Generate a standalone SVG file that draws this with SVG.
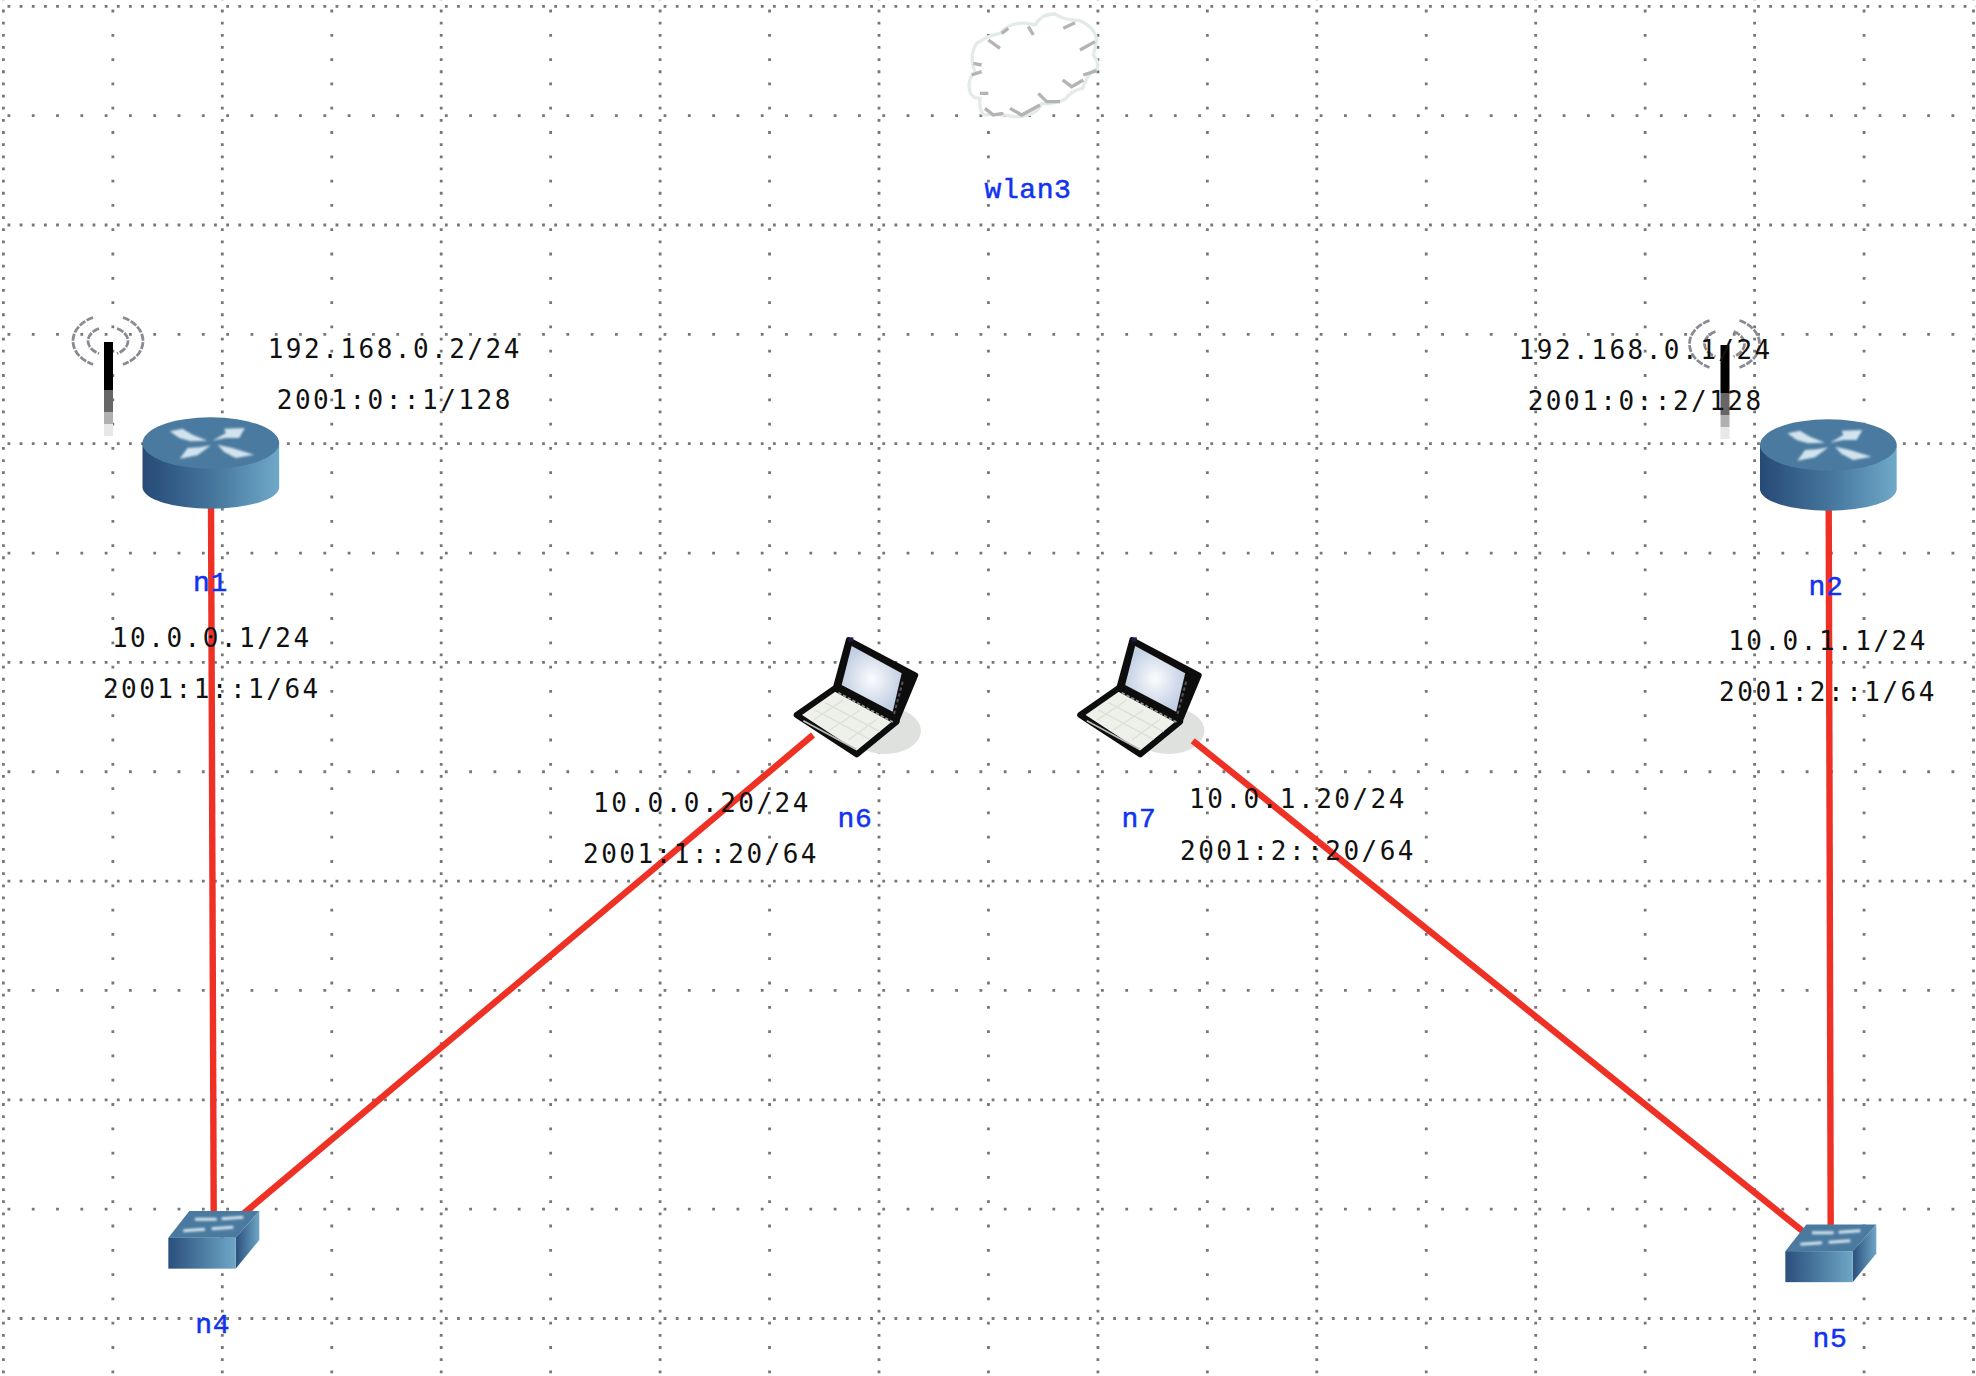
<svg xmlns="http://www.w3.org/2000/svg" width="1976" height="1376" viewBox="0 0 1976 1376">
<style>
.g{stroke:#777;stroke-width:2.8;fill:none}
.f{stroke-dasharray:2.8 9.35}
.c{stroke-dasharray:2.8 21.5}
.l{stroke:#ee3124;stroke-width:6.4;fill:none}
.b{font-family:"DejaVu Sans Mono",monospace;font-size:26px;letter-spacing:2.5px;fill:#111;text-anchor:middle}
.n{font-family:"Liberation Mono",monospace;font-size:28px;letter-spacing:.6px;fill:#1133ee;text-anchor:middle;stroke:#1133ee;stroke-width:.5}
.k{stroke:#8a8a92;stroke-width:2.8;fill:none;stroke-dasharray:7 1.5}
.cb{stroke:#b4b4b4;stroke-width:10;fill:none}
</style>
<defs>
<filter id="s" x="-30%" y="-80%" width="160%" height="260%"><feGaussianBlur stdDeviation="3.5"/></filter>
<filter id="t" x="-5%" y="-5%" width="110%" height="110%"><feGaussianBlur stdDeviation="1.8"/></filter>
<linearGradient id="side"><stop offset="0" stop-color="#264a76"/><stop offset=".5" stop-color="#44749b"/><stop offset="1" stop-color="#6fa9c9"/></linearGradient>
<linearGradient id="sw2" x1="0" y1="0" x2="1" y2="0"><stop offset="0" stop-color="#2a4f7c"/><stop offset="1" stop-color="#6ea7c6"/></linearGradient>
<radialGradient id="scr"><stop offset="0" stop-color="#fbfcfe"/><stop offset="1" stop-color="#c3cfe3"/></radialGradient>
<g id="router">
<path d="M180 435V568A205 64 0 0 0 590 568V435Z" fill="url(#side)"/>
<ellipse cx="385" cy="435" rx="205" ry="77" fill="#4a7a9f"/>
<g fill="#d2e3ee" filter="url(#s)">
<path d="M262 400 300 392 330 410 375 428 325 430 290 420Z"/>
<path d="M390 428 430 405 425 392 487 390 470 420 430 420Z"/>
<path d="M385 442 345 472 292 482 315 450 350 448Z"/>
<path d="M405 440 450 450 515 470 460 480 425 462Z"/>
</g>
</g>
<g id="switch">
<path d="M148 93H358L287 173H85Z" fill="#4a7a9f"/>
<path d="M287 173 358 93V180L287 266Z" fill="url(#sw2)"/>
<rect x="85" y="173" width="202" height="93" fill="url(#sw2)"/>
<path d="M165 118H230M245 116 310 112M130 152 195 148M215 146 280 142" stroke="#d2e3ee" stroke-width="9" fill="none" filter="url(#s)"/>
</g>
<g id="laptop">
<ellipse cx="345" cy="332" rx="108" ry="70" fill="#dfe1df"/>
<g filter="url(#t)">
<path d="M235 58 438 165 380 305 195 205Z" fill="#111" stroke="#111" stroke-width="14" stroke-linejoin="round"/>
<path d="M245 78 395 160 368 275 215 195Z" fill="url(#scr)"/>
<path d="M398 185 370 290" stroke="#555" stroke-width="6" stroke-dasharray="10 8" fill="none"/>
<path d="M195 205 380 305 260 403 80 285Z" fill="#eef0ea" stroke="#111" stroke-width="18" stroke-linejoin="round"/>
<path d="M205 218 372 308" stroke="#999" stroke-width="5" stroke-dasharray="10 6" fill="none"/>
<path d="M100 302 258 388" stroke="#bbb" stroke-width="5" fill="none"/>
<path d="M135 270 300 358M165 248 330 335M220 240 130 300M270 270 180 330M320 298 235 360" stroke="#dcdfd8" stroke-width="4" fill="none"/>
<path d="M235 58 250 58" stroke="#1a1a50" stroke-width="12"/>
</g>
</g>
</defs>
<rect width="1976" height="1376" fill="#fff"/>
<g id="grid">
<path class="g f" d="M3.4-2.55V1376M222.3-2.55V1376M441.2-2.55V1376M660.1-2.55V1376M879-2.55V1376M1097.9-2.55V1376M1316.8-2.55V1376M1535.7-2.55V1376M1754.6-2.55V1376M1973.5-2.55V1376"/>
<path class="g c" d="M112.85-14.7V1376M331.75-14.7V1376M550.65-14.7V1376M769.55-14.7V1376M988.45-14.7V1376M1207.35-14.7V1376M1426.25-14.7V1376M1645.15-14.7V1376M1864.05-14.7V1376"/>
<path class="g f" d="M-4.65 6.3H1976M-4.65 225H1976M-4.65 443.7H1976M-4.65 662.4H1976M-4.65 881.1H1976M-4.65 1099.8H1976M-4.65 1318.5H1976"/>
<path class="g c" d="M-16.8 115.65H1976M-16.8 334.35H1976M-16.8 553.05H1976M-16.8 771.75H1976M-16.8 990.45H1976M-16.8 1209.15H1976"/>
</g>
<g id="wlan3">
<g transform="translate(900 0) scale(.33333)">
<path d="M210 275Q200 240 225 215Q205 170 230 130Q265 105 300 100Q330 65 380 70L405 75Q425 40 465 42Q490 60 540 62Q590 85 590 125L580 165Q600 190 590 208Q565 215 548 265Q515 270 495 298Q450 315 425 310Q410 350 340 350Q300 340 250 345Q235 320 240 295Q215 295 210 275Z" fill="#fff" stroke="#e2eaea" stroke-width="10"/>
<path class="cb" d="M490 85 525 68M540 150 585 125M385 80 400 105M220 190 245 195M215 225 245 215M488 240 515 260 550 240M550 225 590 212M415 280 440 305 480 305M330 325 365 345 420 315M255 325 280 345 310 340M240 280 265 280M265 120 300 145M305 100 325 85"/>
</g>
<text class="n" x="1028" y="198">wlan3</text>
</g>
<g id="n6">
<use href="#laptop" transform="translate(770 620) scale(.33333)"/>
<text class="n" x="855" y="827">n6</text>
</g>
<g id="n7">
<use href="#laptop" transform="translate(1053.5 620) scale(.33333)"/>
<text class="n" x="1139" y="827">n7</text>
</g>
<g id="connectors">
<path class="l" d="M211 500 213.7 1215"/>
<path class="l" d="M1828.7 500 1830.7 1230"/>
<path class="l" d="M813 735 243 1214"/>
<path class="l" d="M1192.7 740.7 1805 1233"/>
</g>
<g id="n1">
<g id="n1-antenna">
<path class="k" d="M93 317.5A35 26 0 0 0 93 364.5M123 317.5A35 26 0 0 1 123 364.5M99 328.5A20 14 0 0 0 99 353.5M117 328.5A20 14 0 0 1 117 353.5"/>
<path d="M104 342H113V390H104Z" fill="#000"/><rect x="104" y="390" width="9" height="22" fill="#666"/><rect x="104" y="412" width="9" height="12" fill="#b0b0b0"/><rect x="104" y="424" width="9" height="12" fill="#e8e8e8"/>
</g>
<use href="#router" transform="translate(82.5 298) scale(.33333)"/>
<text class="n" x="210.5" y="591">n1</text>
</g>
<g id="n2">
<g transform="translate(1616.5 3)">
<path class="k" d="M93 317.5A35 26 0 0 0 93 364.5M123 317.5A35 26 0 0 1 123 364.5M99 328.5A20 14 0 0 0 99 353.5M117 328.5A20 14 0 0 1 117 353.5"/>
<path d="M104 342H113V390H104Z" fill="#000"/><rect x="104" y="390" width="9" height="22" fill="#666"/><rect x="104" y="412" width="9" height="12" fill="#b0b0b0"/><rect x="104" y="424" width="9" height="12" fill="#e8e8e8"/>
</g>
<use href="#router" transform="translate(1700 300) scale(.33333)"/>
<text class="n" x="1826" y="595">n2</text>
</g>
<g id="n4">
<use href="#switch" transform="translate(140 1180) scale(.33333)"/>
<text class="n" x="212.7" y="1333">n4</text>
</g>
<g id="n5">
<use href="#switch" transform="translate(1757 1193.5) scale(.33333)"/>
<text class="n" x="1830" y="1347">n5</text>
</g>
<g id="labels">
<text class="b" x="394.8" y="357.5">192.168.0.2/24</text>
<text class="b" x="394.8" y="409">2001:0::1/128</text>
<text class="b" x="211.8" y="647">10.0.0.1/24</text>
<text class="b" x="211.8" y="698">2001:1::1/64</text>
<text class="b" x="1645.7" y="359">192.168.0.1/24</text>
<text class="b" x="1645.7" y="409.5">2001:0::2/128</text>
<text class="b" x="1828" y="650">10.0.1.1/24</text>
<text class="b" x="1828" y="701">2001:2::1/64</text>
<text class="b" x="702" y="811.5">10.0.0.20/24</text>
<text class="b" x="701" y="862.5">2001:1::20/64</text>
<text class="b" x="1298" y="808">10.0.1.20/24</text>
<text class="b" x="1298" y="860">2001:2::20/64</text>
</g>
</svg>
